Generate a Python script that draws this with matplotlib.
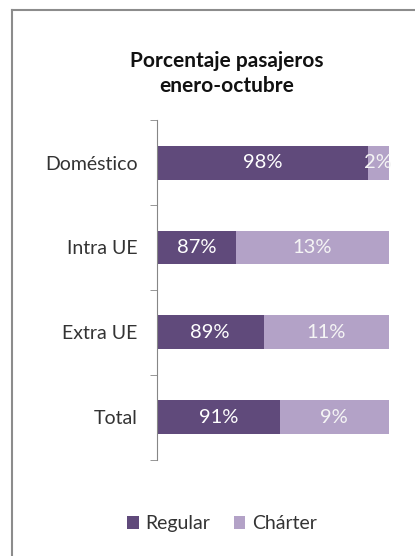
import matplotlib.pyplot as plt
from matplotlib.lines import Line2D
import numpy as np

plt.rcParams['font.family'] = ['Lato', 'DejaVu Sans']

# datos (proporciones tal como se dibujan en las barras)
categorias = ["Doméstico", "Intra UE", "Extra UE", "Total"]
regular = [91, 34, 46, 53]
charter = [9, 66, 54, 47]
etiq_regular = ["98%", "87%", "89%", "91%"]
etiq_charter = ["2%", "13%", "11%", "9%"]

col_regular = "#604A7B"
col_charter = "#B3A2C7"

fig = plt.figure(figsize=(4.15, 5.56), dpi=100)
ax = fig.add_axes([0.378, 0.173, 0.559, 0.611])

y = np.arange(len(categorias))
b1 = ax.barh(y, regular, height=0.4, color=col_regular, label="Regular")
b2 = ax.barh(y, charter, left=regular, height=0.4, color=col_charter, label="Chárter")

# etiquetas de datos
for i in range(len(categorias)):
    ax.text(regular[i] / 2, y[i], etiq_regular[i], ha="center", va="center",
            color="white", fontsize=14.5)
    ax.text(regular[i] + charter[i] / 2, y[i], etiq_charter[i], ha="center",
            va="center", color="#F5F5F5", fontsize=14.5, clip_on=False)

ax.set_xlim(0, 100)
ax.set_ylim(3.5, -0.5)
ax.set_yticks(y)
ax.set_yticklabels(categorias, fontsize=14, color="#333333")
ax.set_yticks(np.arange(-0.5, 4, 1), minor=True)
ax.tick_params(axis="y", which="major", length=0, pad=14)
ax.tick_params(axis="y", which="minor", length=5, color="#868686")
ax.set_xticks([])
for s in ["top", "right", "bottom"]:
    ax.spines[s].set_visible(False)
ax.spines["left"].set_color("#868686")

# título
fig.text(0.547, 0.868, "Porcentaje pasajeros\nenero-octubre", ha="center",
         va="center", fontsize=15, fontweight="bold", linespacing=1.3,
         color="#111111")

# leyenda
fig.legend(handles=[b1, b2], labels=["Regular", "Chárter"], loc="center",
           bbox_to_anchor=(0.535, 0.058), ncol=2, frameon=False, fontsize=14,
           handlelength=0.6, handleheight=0.6, handletextpad=0.35,
           columnspacing=1.2, labelcolor="#333333")

# marco del gráfico
fig.add_artist(Line2D([12 / 415, 1], [1 - 10 / 556, 1 - 10 / 556],
                      color="#8C8C8C", lw=1.5, transform=fig.transFigure))
fig.add_artist(Line2D([12 / 415, 12 / 415], [0, 1 - 10 / 556],
                      color="#8C8C8C", lw=1.5, transform=fig.transFigure))

plt.savefig("out.png", dpi=100)
